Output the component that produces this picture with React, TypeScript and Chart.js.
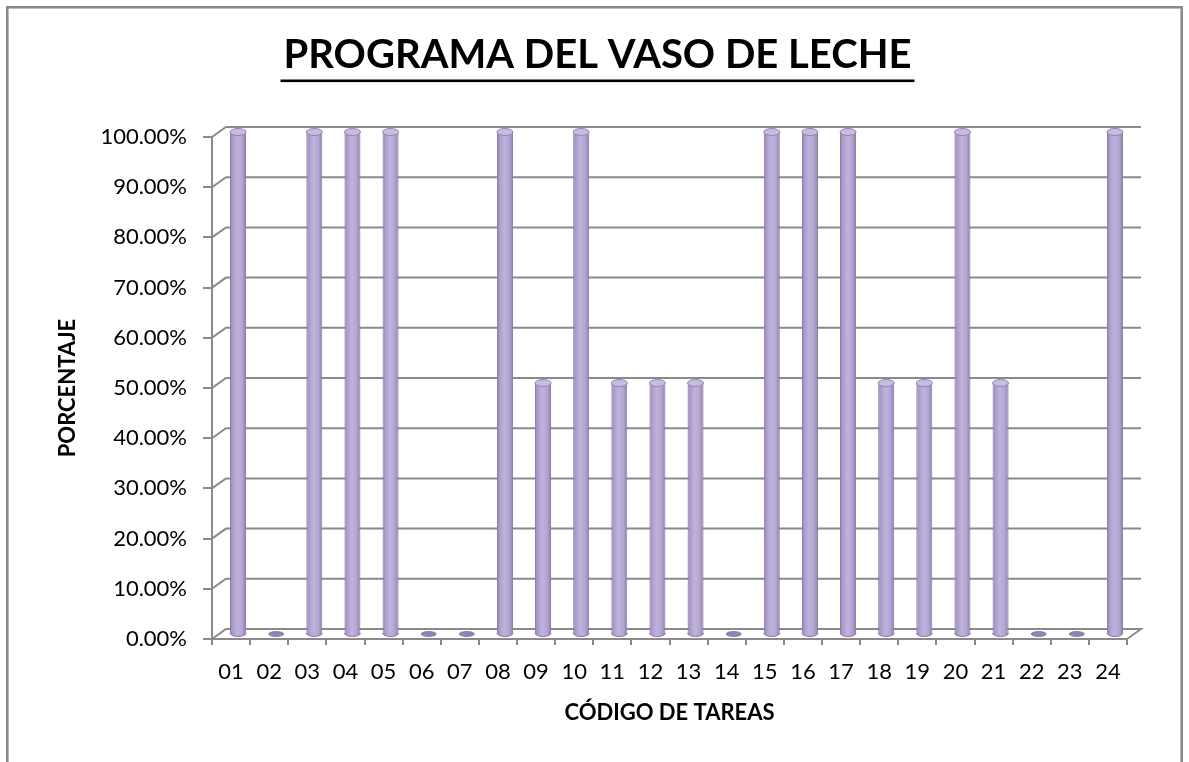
import { useEffect, useRef } from 'react';
import { Chart, registerables } from 'chart.js';

Chart.register(...registerables);

const categories = ['01', '02', '03', '04', '05', '06', '07', '08', '09', '10', '11', '12', '13', '14', '15', '16', '17', '18', '19', '20', '21', '22', '23', '24'];
const percentages = [1, 0, 1, 1, 1, 0, 0, 1, 0.5, 1, 0.5, 0.5, 0.5, 0, 1, 1, 1, 0.5, 0.5, 1, 0.5, 0, 0, 1];
const yMin = 0;
const yMax = 1;
const yStep = 0.1;
const chartTitle = 'PROGRAMA DEL VASO DE LECHE';
const yAxisTitle = 'PORCENTAJE';
const xAxisTitle = 'CÓDIGO DE TAREAS';

const DEPTH_X = 14;
const DEPTH_Y = -10;
const BAR_PCT = 0.42;
const GRID = '#8a8a8a';
const FONT = 'Lato';
const TITLE_SIZE = 40;
const TITLE_PAD_TOP = 31;

const cylinderFill = (c: any) => {
  const chart = c.chart;
  const xs = chart.scales && chart.scales.x;
  if (!xs || c.dataIndex === undefined || !xs.width) return '#b4a5d2';
  const cx = xs.getPixelForValue(c.dataIndex);
  const half = ((xs.width / categories.length) * BAR_PCT) / 2;
  const g = chart.ctx.createLinearGradient(cx - half, 0, cx + half, 0);
  g.addColorStop(0, '#907db0');
  g.addColorStop(0.18, '#ad9ecd');
  g.addColorStop(0.45, '#bfb2db');
  g.addColorStop(0.75, '#b4a6d3');
  g.addColorStop(1, '#8e7bac');
  return g;
};

const frame3d = {
  id: 'frame3d',
  beforeDraw(chart: any) {
    const { ctx } = chart;
    ctx.save();
    ctx.fillStyle = '#ffffff';
    ctx.fillRect(0, 0, chart.width, chart.height);
    ctx.strokeStyle = '#878787';
    ctx.lineWidth = 2.5;
    ctx.strokeRect(7.3, 7.3, chart.width - 14.6, chart.height + 20);
    ctx.restore();
  },
  beforeDatasetsDraw(chart: any) {
    const { ctx, chartArea } = chart;
    const ys = chart.scales.y;
    ctx.save();
    ctx.strokeStyle = GRID;
    ctx.lineWidth = 2;
    ys.ticks.forEach((t: any) => {
      const y = ys.getPixelForValue(t.value);
      ctx.beginPath();
      ctx.moveTo(chartArea.left, y);
      ctx.lineTo(chartArea.left + DEPTH_X, y + DEPTH_Y);
      ctx.lineTo(chartArea.right + DEPTH_X, y + DEPTH_Y);
      if (t.value === yMin) {
        ctx.lineTo(chartArea.right, y);
      }
      ctx.stroke();
    });
    ctx.restore();
  },
  beforeDatasetDraw(chart: any) {
    chart.ctx.save();
    chart.ctx.translate(DEPTH_X / 2, DEPTH_Y / 2);
  },
  afterDatasetDraw(chart: any, args: any) {
    const { ctx } = chart;
    const meta = chart.getDatasetMeta(args.index);
    meta.data.forEach((el: any) => {
      const { x, y, base, width } = el.getProps(['x', 'y', 'base', 'width'], true);
      const rx = width / 2;
      if (Math.abs(base - y) < 1) {
        ctx.beginPath();
        ctx.ellipse(x, base, rx - 0.5, 2.5, 0, 0, Math.PI * 2);
        ctx.fillStyle = '#9483b6';
        ctx.fill();
        ctx.strokeStyle = '#7d6b9c';
        ctx.lineWidth = 0.8;
        ctx.stroke();
        return;
      }
      ctx.beginPath();
      ctx.ellipse(x, base, rx, 3.5, 0, 0, Math.PI);
      ctx.closePath();
      ctx.fillStyle = el.options.backgroundColor;
      ctx.fill();
      ctx.beginPath();
      ctx.ellipse(x, base, rx, 3.5, 0, 0, Math.PI);
      ctx.strokeStyle = '#8b78a8';
      ctx.lineWidth = 1;
      ctx.stroke();
      ctx.beginPath();
      ctx.ellipse(x, y, rx, 3.5, 0, 0, Math.PI * 2);
      ctx.fillStyle = '#c8bce0';
      ctx.fill();
      ctx.strokeStyle = '#9584b4';
      ctx.lineWidth = 1;
      ctx.stroke();
    });
    ctx.restore();
  },
  afterDraw(chart: any) {
    const { ctx } = chart;
    const tb = chart.titleBlock;
    if (!tb) return;
    ctx.save();
    ctx.font = `bold ${TITLE_SIZE}px ${FONT}`;
    const w = ctx.measureText(chartTitle).width;
    const cx = tb.left + tb.width / 2;
    const mid = tb.top + TITLE_PAD_TOP + (TITLE_SIZE * 1.2) / 2;
    ctx.fillStyle = '#000000';
    ctx.fillRect(cx - w / 2 - 3, mid + 24.5, w + 6, 2.6);
    ctx.restore();
  },
};

export default function App() {
  const ref = useRef<HTMLCanvasElement>(null);

  useEffect(() => {
    const canvas = ref.current;
    if (!canvas) return;
    Chart.defaults.font.family = FONT;
    const chart = new Chart(canvas, {
      type: 'bar',
      data: {
        labels: categories,
        datasets: [
          {
            data: percentages,
            backgroundColor: cylinderFill as any,
            borderColor: '#8b78a8',
            borderWidth: 1,
            borderSkipped: 'start',
            barPercentage: BAR_PCT,
            categoryPercentage: 1,
            clip: false as any,
            yAxisID: 'y',
          },
        ],
      },
      options: {
        responsive: false,
        devicePixelRatio: 1,
        animation: false,
        layout: { padding: { left: 8, right: 2, top: 0, bottom: 0 } },
        plugins: {
          legend: { display: false },
          tooltip: { enabled: false },
          title: {
            display: true,
            text: chartTitle,
            color: '#000000',
            font: { family: FONT, size: TITLE_SIZE, weight: 'bold' },
            padding: { top: TITLE_PAD_TOP, bottom: 58 },
          },
        },
        scales: {
          x: {
            type: 'category',
            position: 'bottom',
            grid: {
              display: true,
              drawOnChartArea: false,
              drawTicks: true,
              tickLength: 6,
              color: GRID,
              lineWidth: 2,
              offset: true,
            },
            border: { display: true, color: GRID, width: 2 },
            ticks: {
              color: '#000000',
              font: { family: FONT, size: 22 },
              padding: 14,
              maxRotation: 0,
              autoSkip: false,
            },
            title: {
              display: true,
              text: xAxisTitle,
              color: '#000000',
              font: { family: FONT, size: 22, weight: 'bold' },
              padding: { top: 0, bottom: 36 },
            },
            afterFit: (s: any) => {
              s.height = 123;
            },
          },
          y: {
            type: 'linear',
            position: 'left',
            min: yMin,
            max: yMax,
            grid: {
              display: true,
              drawOnChartArea: false,
              drawTicks: true,
              tickLength: 9,
              color: GRID,
              lineWidth: 2,
            },
            border: { display: true, color: GRID, width: 2 },
            ticks: {
              stepSize: yStep,
              color: '#000000',
              font: { family: FONT, size: 22 },
              padding: 16,
              callback: (v: any) => `${(Number(v) * 100).toFixed(2)}%`,
            },
            title: {
              display: true,
              text: yAxisTitle,
              color: '#000000',
              font: { family: FONT, size: 22, weight: 'bold' },
              padding: { top: 47, bottom: 0 },
            },
            afterFit: (s: any) => {
              s.width = 204;
            },
          },
          yRight: {
            type: 'linear',
            position: 'right',
            display: true,
            grid: { display: false },
            border: { display: false },
            ticks: { display: false },
            afterFit: (s: any) => {
              s.width = 60;
            },
          },
        },
      },
      plugins: [frame3d],
    });
    return () => chart.destroy();
  }, []);

  return (
    <div style={{ position: 'absolute', left: 0, top: 0, width: 1189, height: 762, background: '#ffffff' }}>
      <canvas ref={ref} width={1189} height={762} style={{ display: 'block', width: 1189, height: 762 }} />
    </div>
  );
}
